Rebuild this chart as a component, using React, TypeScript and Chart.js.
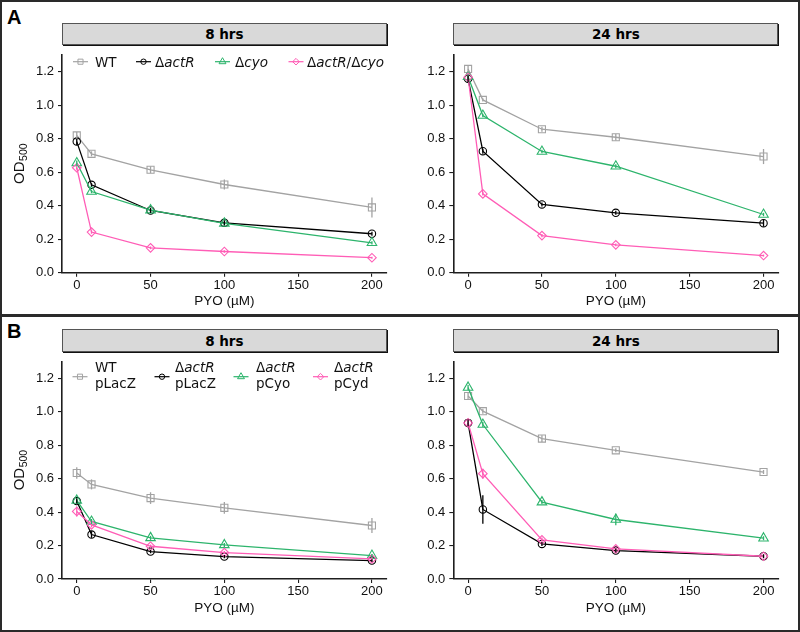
import React, { useEffect, useRef } from 'react';
import { Chart, registerables } from 'chart.js';

Chart.register(...registerables);

// ---------- data ----------
const pyoConc = [0, 10, 50, 100, 200];
const xTickValues = [0, 50, 100, 150, 200];
const yTickValues = [0, 0.2, 0.4, 0.6, 0.8, 1.0, 1.2];
const timeLabels = ['8 hrs', '24 hrs'];
const panelLetters = ['A', 'B'];
const xAxisTitle = 'PYO (µM)';
const yAxisTitleMain = 'OD';
const yAxisTitleSub = '500';

// series names (*...* = italic, \n = new line)
const seriesNamesA = ['WT', 'Δ*actR*', 'Δ*cyo*', 'Δ*actR*/Δ*cyo*'];
const seriesNamesB = ['WT\npLacZ', 'Δ*actR*\npLacZ', 'Δ*actR*\npCyo', 'Δ*actR*\npCyd'];

// A, 8 hrs
const a8WT = [0.82, 0.71, 0.615, 0.527, 0.39];
const a8WTErr = [0.02, 0.015, 0.02, 0.03, 0.06];
const a8ActR = [0.783, 0.525, 0.372, 0.298, 0.233];
const a8ActRErr = [0.02, 0.01, 0.015, 0.015, 0.012];
const a8Cyo = [0.655, 0.485, 0.374, 0.295, 0.179];
const a8CyoErr = [0.015, 0.01, 0.01, 0.01, 0.01];
const a8Dbl = [0.627, 0.243, 0.149, 0.127, 0.09];
const a8DblErr = [0.01, 0.01, 0.008, 0.008, 0.006];

// A, 24 hrs
const a24WT = [1.217, 1.032, 0.857, 0.809, 0.694];
const a24WTErr = [0.02, 0.01, 0.015, 0.02, 0.045];
const a24ActR = [1.158, 0.726, 0.408, 0.358, 0.296];
const a24ActRErr = [0.02, 0.015, 0.012, 0.012, 0.02];
const a24Cyo = [1.17, 0.939, 0.724, 0.636, 0.348];
const a24CyoErr = [0.015, 0.01, 0.01, 0.012, 0.01];
const a24Dbl = [1.167, 0.471, 0.222, 0.167, 0.103];
const a24DblErr = [0.015, 0.01, 0.01, 0.008, 0.006];

// B, 8 hrs
const b8WT = [0.634, 0.566, 0.484, 0.426, 0.32];
const b8WTErr = [0.035, 0.03, 0.035, 0.035, 0.045];
const b8ActR = [0.466, 0.266, 0.164, 0.134, 0.11];
const b8ActRErr = [0.015, 0.02, 0.01, 0.01, 0.008];
const b8Cyo = [0.47, 0.344, 0.246, 0.204, 0.14];
const b8CyoErr = [0.015, 0.015, 0.012, 0.012, 0.01];
const b8Cyd = [0.404, 0.324, 0.196, 0.158, 0.12];
const b8CydErr = [0.03, 0.015, 0.01, 0.01, 0.008];

// B, 24 hrs
const b24WT = [1.095, 1.004, 0.84, 0.77, 0.64];
const b24WTErr = [0.02, 0.015, 0.02, 0.012, 0.012];
const b24ActR = [0.934, 0.416, 0.21, 0.17, 0.136];
const b24ActRErr = [0.02, 0.085, 0.012, 0.012, 0.012];
const b24Cyo = [1.146, 0.924, 0.46, 0.356, 0.244];
const b24CyoErr = [0.015, 0.015, 0.012, 0.035, 0.012];
const b24Cyd = [0.934, 0.63, 0.234, 0.18, 0.136];
const b24CydErr = [0.015, 0.03, 0.015, 0.012, 0.01];

// ---------- styles ----------
const seriesStyles = [
  { color: '#A3A3A3', pointStyle: 'rect', radius: 5, legendRadius: 3.6 },
  { color: '#000000', pointStyle: 'circle', radius: 3.7, legendRadius: 2.7 },
  { color: '#2DB46C', pointStyle: 'triangle', radius: 5.5, legendRadius: 4 },
  { color: '#FF5DB6', pointStyle: 'rectRot', radius: 4.3, legendRadius: 3.3 },
];
const FONT = '"Liberation Sans", Arial, Helvetica, sans-serif';
const LEGEND_FONT = '"DejaVu Sans", Verdana, sans-serif';
const INK = '#111111';
const AXIS = '#1e1e1e';

type Area = { l: number; t: number; r: number; b: number };
type Box = { x: number; y: number; w: number; h: number };
type LegendLayout = { symX: number[]; textX: number[]; symY: number; baseY: number[] };
type PanelDef = {
  box: Box;
  area: Area;
  values: number[][];
  errors: number[][];
  names: string[];
  showYTitle: boolean;
  legend?: LegendLayout;
};

const legendLayoutA: LegendLayout = { symX: [18.5, 81.5, 160.5, 234], textX: [33, 93, 173, 245], symY: 6.7, baseY: [11.7] };
const legendLayoutB: LegendLayout = { symX: [18, 100, 179, 258.5], textX: [33, 113, 194, 272], symY: 15, baseY: [10, 26.7] };

const panels: PanelDef[] = [
  {
    box: { x: 0, y: 36, w: 398, h: 279 },
    area: { l: 62, t: 55, r: 386.7, b: 272.8 },
    values: [a8WT, a8ActR, a8Cyo, a8Dbl],
    errors: [a8WTErr, a8ActRErr, a8CyoErr, a8DblErr],
    names: seriesNamesA,
    showYTitle: true,
    legend: legendLayoutA,
  },
  {
    box: { x: 400, y: 36, w: 390, h: 279 },
    area: { l: 453.3, t: 55, r: 778.3, b: 272.8 },
    values: [a24WT, a24ActR, a24Cyo, a24Dbl],
    errors: [a24WTErr, a24ActRErr, a24CyoErr, a24DblErr],
    names: seriesNamesA,
    showYTitle: false,
  },
  {
    box: { x: 0, y: 342, w: 398, h: 280 },
    area: { l: 62, t: 361.7, r: 386.7, b: 579 },
    values: [b8WT, b8ActR, b8Cyo, b8Cyd],
    errors: [b8WTErr, b8ActRErr, b8CyoErr, b8CydErr],
    names: seriesNamesB,
    showYTitle: true,
    legend: legendLayoutB,
  },
  {
    box: { x: 400, y: 342, w: 390, h: 280 },
    area: { l: 453.3, t: 361.7, r: 778.3, b: 579 },
    values: [b24WT, b24ActR, b24Cyo, b24Cyd],
    errors: [b24WTErr, b24ActRErr, b24CyoErr, b24CydErr],
    names: seriesNamesB,
    showYTitle: false,
  },
];

function drawMarker(ctx: CanvasRenderingContext2D, style: string, x: number, y: number, r: number) {
  ctx.beginPath();
  if (style === 'rect') {
    const s = r * Math.SQRT1_2;
    ctx.rect(x - s, y - s, 2 * s, 2 * s);
  } else if (style === 'circle') {
    ctx.arc(x, y, r, 0, Math.PI * 2);
  } else if (style === 'triangle') {
    ctx.moveTo(x, y - r);
    ctx.lineTo(x + 0.866 * r, y + 0.5 * r);
    ctx.lineTo(x - 0.866 * r, y + 0.5 * r);
  } else {
    ctx.moveTo(x - r, y);
    ctx.lineTo(x, y - r);
    ctx.lineTo(x + r, y);
    ctx.lineTo(x, y + r);
  }
  ctx.closePath();
  ctx.stroke();
}

const errorBarPlugin = {
  id: 'errorBars',
  afterDatasetsDraw(chart: any) {
    const ctx: CanvasRenderingContext2D = chart.ctx;
    const yScale = chart.scales.y;
    const ds = chart.data.datasets;
    ctx.save();
    for (let i = ds.length - 1; i >= 0; i--) {
      const meta = chart.getDatasetMeta(i);
      const errs: number[] = ds[i].errors || [];
      ctx.strokeStyle = ds[i].borderColor;
      ctx.lineWidth = 1.3;
      meta.data.forEach((pt: any, j: number) => {
        const v = ds[i].data[j].y;
        const e = errs[j] || 0;
        ctx.beginPath();
        ctx.moveTo(pt.x, yScale.getPixelForValue(v + e));
        ctx.lineTo(pt.x, yScale.getPixelForValue(v - e));
        ctx.stroke();
      });
    }
    ctx.restore();
  },
};

// y-axis title with a real subscript, drawn rotated at the left edge of the y scale
const yTitlePlugin = {
  id: 'yTitleSub',
  afterDraw(chart: any) {
    const ctx: CanvasRenderingContext2D = chart.ctx;
    const { top, bottom } = chart.chartArea;
    const cx = chart.scales.y.left + 24;
    const cy = (top + bottom) / 2;
    ctx.save();
    ctx.translate(cx, cy);
    ctx.rotate(-Math.PI / 2);
    ctx.fillStyle = INK;
    ctx.textBaseline = 'alphabetic';
    ctx.textAlign = 'left';
    const mainFont = `15px ${FONT}`;
    const subFont = `10.5px ${FONT}`;
    ctx.font = mainFont;
    const wMain = ctx.measureText(yAxisTitleMain).width;
    ctx.font = subFont;
    const wSub = ctx.measureText(yAxisTitleSub).width;
    const start = -(wMain + wSub) / 2;
    ctx.font = mainFont;
    ctx.fillText(yAxisTitleMain, start, 0);
    ctx.font = subFont;
    ctx.fillText(yAxisTitleSub, start + wMain + 0.5, 3);
    ctx.restore();
  },
};

function makeLegendPlugin(names: string[], layout: LegendLayout) {
  return {
    id: 'customLegend',
    afterDraw(chart: any) {
      const ctx: CanvasRenderingContext2D = chart.ctx;
      const { left, top } = chart.chartArea;
      ctx.save();
      names.forEach((name, i) => {
        const st = seriesStyles[i];
        const sx = left + layout.symX[i];
        const sy = top + layout.symY;
        ctx.strokeStyle = st.color;
        ctx.lineWidth = 1.2;
        ctx.beginPath();
        ctx.moveTo(sx - 7.5, sy);
        ctx.lineTo(sx + 7.5, sy);
        ctx.stroke();
        ctx.lineWidth = 1;
        drawMarker(ctx, st.pointStyle, sx, sy, st.legendRadius);
        ctx.fillStyle = INK;
        ctx.textBaseline = 'alphabetic';
        ctx.textAlign = 'left';
        name.split('\n').forEach((line, li) => {
          let x = left + layout.textX[i];
          const y = top + layout.baseY[li];
          line.split('*').forEach((seg, si) => {
            if (!seg) return;
            ctx.font = `${si % 2 === 1 ? 'italic ' : ''}13.5px ${LEGEND_FONT}`;
            ctx.fillText(seg, x, y);
            x += ctx.measureText(seg).width;
          });
        });
      });
      ctx.restore();
    },
  };
}

function makeConfig(p: PanelDef): any {
  const padTop = p.area.t - p.box.y;
  const padRight = p.box.x + p.box.w - p.area.r;
  const yWidth = p.area.l - p.box.x;
  const xHeight = p.box.y + p.box.h - p.area.b;
  const tickFont = { family: FONT, size: 13 };
  const titleFont = { family: FONT, size: 13.5 };
  const plugins: any[] = [errorBarPlugin];
  if (p.legend) plugins.push(makeLegendPlugin(p.names, p.legend));
  if (p.showYTitle) plugins.push(yTitlePlugin);
  return {
    type: 'line',
    data: {
      datasets: p.values.map((vals, i) => ({
        label: p.names[i].replace(/\*/g, '').replace('\n', ' '),
        data: pyoConc.map((x, j) => ({ x, y: vals[j] })),
        errors: p.errors[i],
        borderColor: seriesStyles[i].color,
        pointBorderColor: seriesStyles[i].color,
        pointBackgroundColor: 'rgba(0,0,0,0)',
        pointStyle: seriesStyles[i].pointStyle,
        pointRadius: seriesStyles[i].radius,
        pointBorderWidth: 1.1,
        borderWidth: 1.3,
        tension: 0,
        fill: false,
        order: 4 - i,
      })),
    },
    options: {
      responsive: false,
      animation: false,
      events: [],
      layout: { padding: { left: 0, top: padTop, right: padRight, bottom: 0 } },
      plugins: { legend: { display: false }, tooltip: { enabled: false } },
      scales: {
        x: {
          type: 'linear',
          min: -10,
          max: 210,
          afterBuildTicks: (s: any) => {
            s.ticks = xTickValues.map((v) => ({ value: v }));
          },
          afterFit: (s: any) => {
            s.height = xHeight;
          },
          ticks: {
            font: tickFont,
            color: INK,
            padding: 1,
            maxRotation: 0,
            autoSkip: false,
            callback: (v: any) => String(v),
          },
          grid: { drawOnChartArea: false, drawTicks: true, tickLength: 4, color: AXIS, lineWidth: 1.1 },
          border: { display: true, color: AXIS, width: 1.6 },
          title: { display: true, text: xAxisTitle, font: titleFont, color: INK, padding: { top: 0, bottom: 6 } },
        },
        y: {
          type: 'linear',
          min: 0,
          max: 1.3,
          afterBuildTicks: (s: any) => {
            s.ticks = yTickValues.map((v) => ({ value: v }));
          },
          afterFit: (s: any) => {
            s.width = yWidth;
          },
          ticks: {
            font: tickFont,
            color: INK,
            padding: 4,
            autoSkip: false,
            callback: (v: any) => Number(v).toFixed(1),
          },
          grid: { drawOnChartArea: false, drawTicks: true, tickLength: 4, color: AXIS, lineWidth: 1.1 },
          border: { display: true, color: AXIS, width: 1.6 },
          title: { display: false },
        },
      },
    },
    plugins,
  };
}

function Panel({ def }: { def: PanelDef }) {
  const ref = useRef<HTMLCanvasElement>(null);
  useEffect(() => {
    const chart = new Chart(ref.current as HTMLCanvasElement, makeConfig(def));
    return () => chart.destroy();
  }, [def]);
  return (
    <canvas
      ref={ref}
      width={def.box.w}
      height={def.box.h}
      style={{ position: 'absolute', left: def.box.x, top: def.box.y, width: def.box.w, height: def.box.h }}
    />
  );
}

function Strip({ area, top, bottom, text }: { area: Area; top: number; bottom: number; text: string }) {
  return (
    <div
      style={{
        position: 'absolute',
        left: area.l,
        top,
        width: area.r - area.l,
        height: bottom - top,
        boxSizing: 'border-box',
        background: '#D9D9D9',
        border: '1px solid #555',
        boxShadow: '1px 1px 0 #111',
        display: 'flex',
        alignItems: 'center',
        justifyContent: 'center',
        fontFamily: '"DejaVu Sans", Verdana, sans-serif',
        fontWeight: 'bold',
        fontSize: 13.5,
        color: '#000',
      }}
    >
      {text}
    </div>
  );
}

export default function App() {
  const stripTops = [22.7, 329];
  const stripBottoms = [45, 352.3];
  return (
    <div style={{ position: 'absolute', left: 0, top: 0, width: 800, height: 632, background: '#fff', overflow: 'hidden' }}>
      <div style={{ position: 'absolute', left: 0, top: 0, width: 800, height: 317, boxSizing: 'border-box', border: '2px solid #2a2a2a' }} />
      <div style={{ position: 'absolute', left: 0, top: 314, width: 800, height: 318, boxSizing: 'border-box', border: '2px solid #2a2a2a' }} />
      {panelLetters.map((L, i) => (
        <div
          key={L}
          style={{
            position: 'absolute',
            left: 7,
            top: i === 0 ? 7 : 321,
            fontFamily: FONT,
            fontWeight: 'bold',
            fontSize: 20,
            lineHeight: '20px',
            color: '#000',
          }}
        >
          {L}
        </div>
      ))}
      {panels.map((p, i) => (
        <Strip key={'s' + i} area={p.area} top={stripTops[Math.floor(i / 2)]} bottom={stripBottoms[Math.floor(i / 2)]} text={timeLabels[i % 2]} />
      ))}
      {panels.map((p, i) => (
        <Panel key={'p' + i} def={p} />
      ))}
    </div>
  );
}
